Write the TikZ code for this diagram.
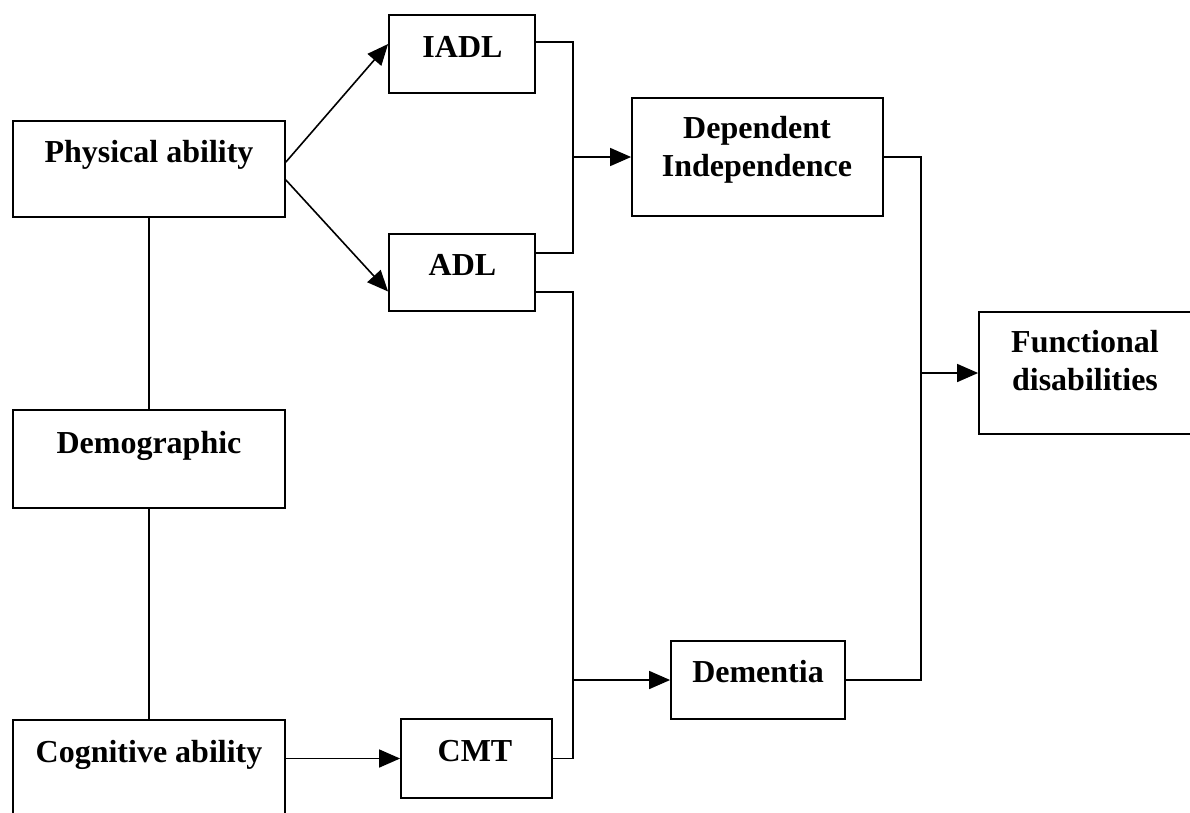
\documentclass[tikz,border=0pt]{standalone}
\usepackage{fontspec}
\setmainfont{Liberation Serif}
\usetikzlibrary{arrows.meta}
\begin{document}
\begin{tikzpicture}[x=1pt,y=-1pt,
  box/.style={draw, line width=1.8pt, rectangle, inner sep=0pt},
  lbl/.style={font=\bfseries\fontsize{32}{36}\selectfont, anchor=base, inner sep=0pt},
  conn/.style={line width=1.6pt},
  arr/.style={conn, -{Triangle[length=21pt,width=18pt]}}]
\useasboundingbox (0,0) rectangle (1190,812);
\fill[white] (0,0) rectangle (1190,812);
\clip (0,0) rectangle (1190,812);
% boxes
\node[box, minimum width=272pt, minimum height=96pt] (phys) at (149,169) {};
\node[box, minimum width=146pt, minimum height=78pt] (iadl) at (462,54) {};
\node[box, minimum width=146pt, minimum height=77pt] (adl) at (462,272.5) {};
\node[box, minimum width=251pt, minimum height=118pt] (dep) at (757.5,157) {};
\node[box, minimum width=221pt, minimum height=122pt] (func) at (1089.5,373) {};
\node[box, minimum width=272pt, minimum height=98pt] (demo) at (149,459) {};
\node[box, minimum width=272pt, minimum height=110pt] (cog) at (149,775) {};
\node[box, minimum width=151pt, minimum height=79pt] (cmt) at (476.5,758.5) {};
\node[box, minimum width=174pt, minimum height=78pt] (dem) at (758,680) {};
% labels
\node[lbl] (physT) at (149,162) {Physical ability};
\node[lbl] (iadlT) at (462.5,57) {IADL};
\node[lbl] (adlT) at (462.5,275) {ADL};
\node[lbl] (depT1) at (757,138) {Dependent};
\node[lbl] (depT2) at (757,176) {Independence};
\node[lbl] (funcT1) at (1085,352) {Functional};
\node[lbl] (funcT2) at (1085,390) {disabilities};
\node[lbl] (demoT) at (149,453) {Demographic};
\node[lbl] (cogT) at (149,762) {Cognitive ability};
\node[lbl] (cmtT) at (475,761) {CMT};
\node[lbl] (demT) at (758,682) {Dementia};
% junctions
\coordinate (jA) at (573,157);
\coordinate (jB) at (573,680);
\coordinate (jC) at (921,373);
% connectors
\draw[arr] ([yshift=7pt]phys.east) -- ([yshift=10pt]iadl.west);
\draw[arr] ([yshift=-11pt]phys.east) -- ([yshift=-19pt]adl.west);
\draw[conn] (phys.south) -- (demo.north);
\draw[conn] (demo.south) -- (cog.north);
\draw[conn] ([yshift=12pt]iadl.east) -| (jA);
\draw[conn] ([yshift=19.5pt]adl.east) -| (jA);
\draw[arr] (jA) -- (dep.west);
\draw[conn] ([yshift=-19.5pt]adl.east) -| (jB);
\draw[conn] (cmt.east) -| (jB);
\draw[arr] (jB) -- (dem.west);
\draw[arr] (cog.east |- cmt.west) -- (cmt.west);
\draw[conn] (dep.east) -| (jC);
\draw[conn] (dem.east) -| (jC);
\draw[arr] (jC) -- (func.west);
\end{tikzpicture}
\end{document}
